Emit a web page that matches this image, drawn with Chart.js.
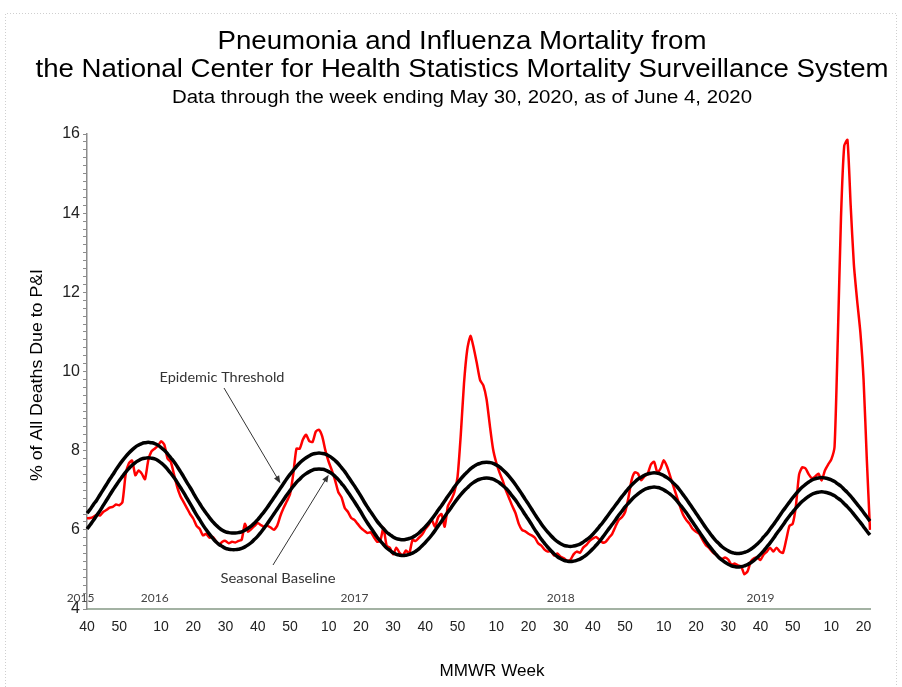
<!DOCTYPE html>
<html>
<head>
<meta charset="utf-8">
<script src="https://cdn.jsdelivr.net/npm/chart.js@4.4.1/dist/chart.umd.min.js"></script>
<style>
  html, body { margin: 0; padding: 0; background: #ffffff; }
  #wrap { width: 902px; height: 687px; position: relative; }
  canvas { display: block; }
</style>
</head>
<body>
<div id="wrap"><canvas id="c" width="902" height="687"></canvas></div>
<script>
// ---------- categories (MMWR weeks, 2015 wk40 .. 2020 wk22) ----------
const mmwrYears  = [2015, 2016, 2017, 2018, 2019, 2020];
const firstWeeks = [40, 1, 1, 1, 1, 1];
const lastWeeks  = [53, 52, 52, 52, 52, 22];

// ---------- tick labels ----------
const yTickLabels = [4, 6, 8, 10, 12, 14, 16];
const xTickEvery = 10;
const yearLabels = ['2015', '2016', '2017', '2018', '2019'];
const yearLabelWeekIndex = [-2, 21, 83, 147, 209];

// ---------- series ----------
const pandiPercent = [
6.29,6.30,6.33,6.38,6.36,6.45,6.50,6.56,6.58,6.64,6.62,6.70,7.40,7.68,7.75,7.38,7.50,7.42,7.28,7.75,
7.98,8.05,8.12,8.24,8.15,7.80,7.72,7.40,7.08,6.85,6.70,6.55,6.40,6.28,6.10,6.02,5.86,5.90,5.80,5.82,
5.72,5.62,5.70,5.72,5.66,5.70,5.68,5.72,5.75,6.15,5.95,
6.02,6.10,6.17,6.12,6.08,6.10,6.06,6.00,6.10,6.35,
6.55,6.72,6.90,7.40,8.05,8.05,8.28,8.40,8.24,8.22,
8.48,8.53,8.36,8.00,7.72,7.50,7.25,6.95,6.82,6.55,
6.45,6.30,6.25,6.15,6.05,5.98,5.92,5.94,5.82,5.70,
5.72,6.05,5.60,5.55,5.38,5.55,5.42,5.36,5.48,5.40,
5.74,5.72,5.80,5.88,6.02,6.12,6.25,6.08,6.32,6.40,
6.08,6.60,6.75,6.95,7.34,8.40,9.70,10.55,10.90,10.60,
10.20,9.78,9.65,9.30,8.65,8.05,7.70,7.45,7.25,7.00,
6.80,6.60,6.42,6.15,6.00,5.96,5.90,5.86,5.80,5.66,
5.60,5.50,5.45,5.46,5.35,5.40,5.32,5.28,5.22,5.24,
5.38,5.45,5.42,5.55,5.62,5.72,5.78,5.82,5.75,5.68,
5.70,5.80,5.90,6.08,6.25,6.32,6.45,6.80,7.25,7.45,
7.42,7.25,7.35,7.42,7.65,7.72,7.45,7.55,7.76,7.60,
7.35,7.10,6.85,6.60,6.38,6.25,6.15,6.02,5.95,5.90,
5.75,5.62,5.55,5.45,5.38,5.32,5.26,5.30,5.25,5.12,
5.15,5.10,5.08,4.88,4.95,5.20,5.28,5.30,5.24,5.38,
5.45,5.55,5.45,5.55,5.45,5.42,5.75,6.10,6.15,6.60,
7.40,7.58,7.55,7.40,7.30,7.35,7.42,7.25,7.50,7.65,
7.78,8.10,10.80,13.90,15.70,15.85,14.20,12.70,11.80,11.00,
9.80,7.80,6.00
];

const seasonalBaseline = [
6.02,6.13,6.24,6.36,6.48,6.61,6.74,6.87,7.00,7.12,7.24,7.35,7.46,7.55,7.63,7.70,7.75,7.79,7.81,7.82,
7.81,7.79,7.75,7.69,7.62,7.53,7.43,7.32,7.20,7.07,6.94,6.80,6.66,6.52,6.38,6.25,6.12,6.00,5.89,5.79,5.70,5.63,5.58,5.53,5.51,5.50,
5.50,5.51,5.53,5.57,5.62,5.68,5.76,5.84,5.94,6.05,6.16,6.28,6.40,6.52,6.64,6.76,6.88,6.99,7.10,7.20,7.28,7.36,7.42,7.47,7.51,7.53,7.54,
7.53,7.51,7.47,7.42,7.35,7.27,7.17,7.07,6.95,6.83,6.71,6.58,6.45,6.31,6.18,6.06,5.94,5.82,5.72,5.63,5.54,5.48,5.42,5.38,5.36,5.35,
5.36,5.38,5.41,5.46,5.52,5.60,5.68,5.77,5.87,5.98,6.10,6.21,6.33,6.45,6.56,6.68,6.79,6.89,6.98,7.06,7.14,7.20,7.25,7.28,7.30,7.31,
7.30,7.28,7.24,7.19,7.12,7.05,6.96,6.85,6.75,6.63,6.51,6.38,6.26,6.13,6.00,5.88,5.76,5.66,5.56,5.47,5.39,5.32,5.27,5.23,5.21,5.20,
5.21,5.23,5.26,5.31,5.37,5.44,5.52,5.61,5.70,5.81,5.92,6.03,6.14,6.25,6.37,6.47,6.58,6.67,6.76,6.84,6.91,6.97,7.02,7.05,7.07,7.08,
7.07,7.05,7.01,6.96,6.90,6.83,6.74,6.64,6.54,6.43,6.31,6.19,6.07,5.95,5.83,5.71,5.60,5.50,5.40,5.31,5.24,5.18,5.13,5.09,5.07,5.06,
5.07,5.09,5.12,5.17,5.23,5.30,5.38,5.47,5.57,5.67,5.78,5.90,6.01,6.12,6.24,6.35,6.45,6.55,6.64,6.72,6.79,6.85,6.90,6.93,6.95,6.96,
6.95,6.93,6.90,6.86,6.80,6.74,6.66,6.58,6.49,6.39,6.29,6.19,6.08,5.97,5.87
];

const epidemicThreshold = [
6.42,6.52,6.64,6.75,6.88,7.01,7.14,7.27,7.39,7.52,7.64,7.75,7.85,7.94,8.02,8.09,8.14,8.18,8.20,8.21,
8.20,8.18,8.14,8.08,8.01,7.92,7.82,7.72,7.60,7.47,7.34,7.20,7.07,6.93,6.79,6.66,6.53,6.42,6.31,6.21,6.12,6.05,5.99,5.95,5.93,5.92,
5.92,5.93,5.95,5.99,6.04,6.10,6.17,6.26,6.36,6.46,6.57,6.69,6.81,6.93,7.05,7.17,7.29,7.40,7.50,7.60,7.69,7.76,7.82,7.87,7.91,7.93,7.94,
7.93,7.91,7.87,7.82,7.75,7.67,7.57,7.47,7.35,7.23,7.11,6.98,6.85,6.71,6.58,6.46,6.34,6.22,6.12,6.03,5.94,5.88,5.82,5.78,5.76,5.75,
5.76,5.78,5.81,5.86,5.92,6.00,6.08,6.17,6.27,6.38,6.50,6.61,6.73,6.85,6.96,7.08,7.19,7.29,7.38,7.46,7.54,7.60,7.65,7.68,7.70,7.71,
7.70,7.68,7.64,7.59,7.52,7.44,7.35,7.25,7.14,7.02,6.90,6.77,6.65,6.52,6.39,6.27,6.15,6.04,5.94,5.85,5.77,5.70,5.65,5.61,5.59,5.58,
5.59,5.61,5.64,5.69,5.75,5.81,5.89,5.98,6.08,6.18,6.29,6.40,6.51,6.62,6.73,6.84,6.94,7.04,7.13,7.21,7.28,7.33,7.38,7.41,7.43,7.44,
7.43,7.41,7.37,7.32,7.26,7.18,7.10,7.00,6.89,6.78,6.66,6.54,6.42,6.30,6.18,6.06,5.95,5.84,5.74,5.66,5.58,5.52,5.47,5.43,5.41,5.40,
5.41,5.43,5.46,5.51,5.57,5.64,5.72,5.82,5.91,6.02,6.13,6.24,6.36,6.48,6.59,6.70,6.81,6.91,7.00,7.08,7.15,7.21,7.26,7.29,7.31,7.32,
7.31,7.29,7.26,7.22,7.16,7.10,7.02,6.94,6.85,6.75,6.65,6.55,6.44,6.33,6.22
];

// ---------- texts ----------
const titleLines = ['Pneumonia and Influenza Mortality from',
                    'the National Center for Health Statistics Mortality Surveillance System'];
const subtitleText = 'Data through the week ending May 30, 2020, as of June 4, 2020';
const yAxisTitle = '% of All Deaths Due to P&I';
const xAxisTitle = 'MMWR Week';

// ---------- build categories ----------
const weekLabels = [];
for (let y = 0; y < mmwrYears.length; y++) {
  for (let w = firstWeeks[y]; w <= lastWeeks[y]; w++) weekLabels.push(w);
}

// ---------- decoration plugin ----------
function arrow(ctx, x1, y1, x2, y2) {
  const a = Math.atan2(y2 - y1, x2 - x1), h = 8, s = 0.38;
  ctx.beginPath(); ctx.moveTo(x1, y1); ctx.lineTo(x2 - Math.cos(a) * 5, y2 - Math.sin(a) * 5); ctx.stroke();
  ctx.beginPath();
  ctx.moveTo(x2, y2);
  ctx.lineTo(x2 - h * Math.cos(a - s), y2 - h * Math.sin(a - s));
  ctx.lineTo(x2 - h * Math.cos(a + s), y2 - h * Math.sin(a + s));
  ctx.closePath(); ctx.fill();
}
// draw text centred at (cx, cy), stretched horizontally to a given width
function fitText(ctx, text, cx, cy, font, width) {
  ctx.save();
  ctx.font = font;
  const w = ctx.measureText(text).width;
  ctx.translate(cx, cy);
  ctx.scale(width / w, 1);
  ctx.fillText(text, 0, 0);
  ctx.restore();
}

const decor = {
  id: 'decor',
  afterDraw(chart) {
    const ctx = chart.ctx, xs = chart.scales.x, ys = chart.scales.y;
    ctx.save();
    // frame
    ctx.strokeStyle = '#cfcfcf'; ctx.lineWidth = 1; ctx.setLineDash([1, 2]);
    ctx.beginPath();
    ctx.moveTo(5.5, 687); ctx.lineTo(5.5, 13.5); ctx.lineTo(896.5, 13.5); ctx.lineTo(896.5, 687);
    ctx.stroke();
    ctx.setLineDash([]);

    // titles
    ctx.fillStyle = '#000'; ctx.textAlign = 'center'; ctx.textBaseline = 'middle';
    fitText(ctx, titleLines[0], 462, 42, '25px "Liberation Sans", Arial, sans-serif', 489);
    fitText(ctx, titleLines[1], 462, 70, '25px "Liberation Sans", Arial, sans-serif', 853);
    fitText(ctx, subtitleText, 462, 98, '18px "Liberation Sans", Arial, sans-serif', 580);

    // axis titles
    fitText(ctx, xAxisTitle, 492, 672, '16px "Liberation Sans", Arial, sans-serif', 105);
    ctx.save();
    ctx.translate(38, 375); ctx.rotate(-Math.PI / 2);
    fitText(ctx, yAxisTitle, 0, 0, '16px "Liberation Sans", Arial, sans-serif', 212);
    ctx.restore();

    // year labels
    ctx.font = '12px Lato, "Open Sans", sans-serif';
    ctx.fillStyle = '#444';
    yearLabels.forEach((t, i) => {
      ctx.fillText(t, xs.getPixelForValue(yearLabelWeekIndex[i]), ys.getPixelForValue(4.28));
    });

    // annotations
    ctx.fillStyle = '#333';
    fitText(ctx, 'Epidemic Threshold', 222, 377, '14px Lato, "Open Sans", sans-serif', 125);
    fitText(ctx, 'Seasonal Baseline', 278, 578, '14px Lato, "Open Sans", sans-serif', 115);
    ctx.strokeStyle = '#333'; ctx.lineWidth = 1;
    arrow(ctx, 224, 388, xs.getPixelForValue(60), ys.getPixelForValue(epidemicThreshold[60]) - 5);
    arrow(ctx, 273, 565, xs.getPixelForValue(75), ys.getPixelForValue(seasonalBaseline[75]) + 3);
    ctx.restore();
  }
};

new Chart(document.getElementById('c'), {
  type: 'line',
  data: {
    labels: weekLabels,
    datasets: [
      { label: 'Epidemic Threshold', data: epidemicThreshold, borderColor: '#000', borderWidth: 3.5,
        pointRadius: 0, tension: 0.4, fill: false },
      { label: 'Seasonal Baseline', data: seasonalBaseline, borderColor: '#000', borderWidth: 3.5,
        pointRadius: 0, tension: 0.4, fill: false },
      { label: '% of All Deaths Due to P&I', data: pandiPercent, borderColor: '#ff0000', borderWidth: 2.5,
        pointRadius: 0, tension: 0.2, fill: false }
    ]
  },
  options: {
    responsive: false,
    animation: false,
    events: [],
    layout: { padding: { left: 0, right: 32, top: 134, bottom: 0 } },
    plugins: { legend: { display: false }, tooltip: { enabled: false }, title: { display: false } },
    scales: {
      x: {
        type: 'category',
        offset: false,
        grid: { display: false, drawTicks: false, tickLength: 0 },
        border: { display: true, color: '#a3b2a3', width: 2 },
        ticks: {
          autoSkip: false, maxRotation: 0, minRotation: 0, padding: 10,
          color: '#222', font: { family: '"Liberation Sans", Arial, sans-serif', size: 14 },
          callback: (v, i) => (weekLabels[i] % xTickEvery === 0 ? String(weekLabels[i]) : '')
        },
        afterFit: s => { s.height = 78; }
      },
      y: {
        min: 4, max: 16,
        grid: { drawOnChartArea: false, drawTicks: true, tickLength: 4, color: '#8c8c8c' },
        border: { display: true, color: '#8c8c8c', width: 1.5 },
        ticks: {
          stepSize: 0.2, autoSkip: false, padding: 3,
          color: '#222', font: { family: '"Liberation Sans", Arial, sans-serif', size: 16 },
          callback: v => {
            const r = Math.round(v);
            return (Math.abs(v - r) < 1e-6 && yTickLabels.includes(r)) ? String(r) : '';
          }
        },
        afterFit: s => { s.width = 87; }
      }
    }
  },
  plugins: [decor]
});
</script>
</body>
</html>
